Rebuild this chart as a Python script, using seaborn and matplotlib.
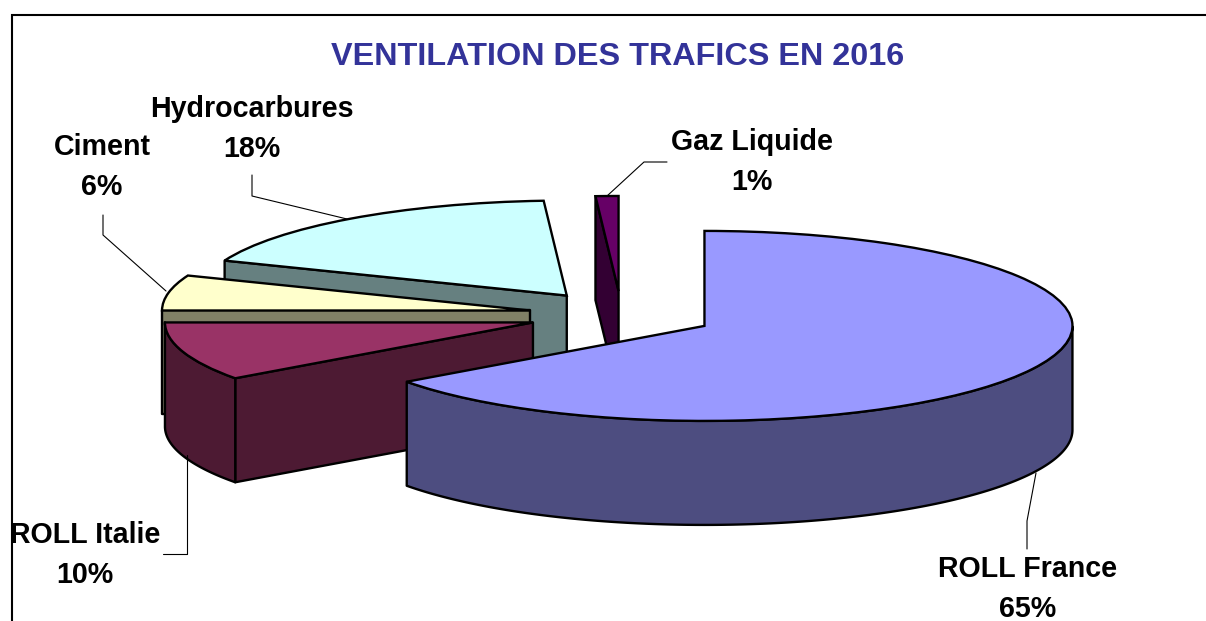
import numpy as np
import matplotlib
matplotlib.use("Agg")
import matplotlib.pyplot as plt
import matplotlib.colors as mcolors
from matplotlib.patches import Polygon
import seaborn as sns

# ---- data ----
categories = ["ROLL France", "ROLL Italie", "Ciment", "Hydrocarbures", "Gaz Liquide"]
shares = [65, 10, 6, 18, 1]
top_colors = ["#9999FF", "#993366", "#FFFFCC", "#CCFFFF", "#660066"]
title_text = "VENTILATION DES TRAFICS EN 2016"

# ---- styling / layout ----
W, H = 1206, 621
CX, CY, RX, RY = 621.5, 315, 368, 95   # pixel centre and semi-axes of the flattened pie
DEPTH = 104 / RY
EXPLODE = 0.253
EDGE = 1.7

sns.set_theme(style="white")
plt.rcParams["font.family"] = ["Liberation Sans", "DejaVu Sans"]

fig = plt.figure(figsize=(W / 100, H / 100), dpi=100, facecolor="white")
ax = fig.add_axes([0, 0, 1, 1])

wedges, _ = ax.pie(shares, explode=[EXPLODE] * len(shares), colors=top_colors, startangle=90,
                   counterclock=False, radius=1, frame=True,
                   wedgeprops=dict(edgecolor="black", linewidth=EDGE))
ax.set_aspect("auto")
ax.set_xlim(-CX / RX, (W - CX) / RX)
ax.set_ylim(-(H - CY) / RY, CY / RY)
ax.set_xticks([]); ax.set_yticks([])
for s in ax.spines.values():
    s.set_visible(False)


def shade(c, f=0.5):
    return tuple(v * f for v in mcolors.to_rgb(c))


def add_face(pts, color, z):
    ax.add_patch(Polygon(pts, closed=True, facecolor=color, edgecolor="black",
                         linewidth=EDGE, joinstyle="round", zorder=z))


# painter's order: last slice is furthest back, first slice is in front
for i, w in reversed(list(enumerate(wedges))):
    base = 10 + (len(wedges) - i) * 10
    cx, cy = w.center
    t1, t2 = w.theta1, w.theta2
    side = shade(top_colors[i])
    for t, visible in ((t1, np.cos(np.radians(t1)) > 1e-6), (t2, np.cos(np.radians(t2)) < -1e-6)):
        if visible:
            px, py = cx + np.cos(np.radians(t)), cy + np.sin(np.radians(t))
            add_face([(cx, cy), (px, py), (px, py - DEPTH), (cx, cy - DEPTH)], side, base)
    ts = np.linspace(t1, t2, 361)
    ts = ts[np.sin(np.radians(ts)) <= 1e-9]
    if len(ts) > 1:
        xs = cx + np.cos(np.radians(ts))
        ys = cy + np.sin(np.radians(ts))
        add_face(np.r_[np.c_[xs, ys], np.c_[xs, ys - DEPTH][::-1]], side, base + 1)
    w.set_zorder(base + 2)

# ---- overlay in pixel coordinates: frame, title, labels, leaders ----
ov = fig.add_axes([0, 0, 1, 1], facecolor="none")
ov.set_xlim(0, W); ov.set_ylim(H, 0)
ov.axis("off")
ov.plot([11.5, 11.5, W], [H, 14.5, 14.5], color="black", lw=1.5, solid_joinstyle="miter")
ov.text(618, 57, title_text, color="#333399", fontsize=23.3, fontweight="bold",
        ha="center", va="center")

labels = {
    "ROLL France": (1028, 589, [(1036, 473), (1027, 521), (1027, 549)]),
    "ROLL Italie": (85, 555, [(187, 455), (187, 554), (163, 554)]),
    "Ciment": (102, 167, [(103, 215), (103, 235), (166, 291)]),
    "Hydrocarbures": (252, 129, [(252, 175), (252, 196), (347, 219)]),
    "Gaz Liquide": (752, 162, [(607, 196), (644, 162), (667, 162)]),
}
for name, share in zip(categories, shares):
    x, y, leader = labels[name]
    ov.text(x, y, f"{name}\n{share}%", fontsize=20.6, fontweight="bold", color="black",
            ha="center", va="center", linespacing=1.55)
    ov.plot(*zip(*leader), color="black", lw=0.8, zorder=5)

fig.savefig("out.png", dpi=100)
